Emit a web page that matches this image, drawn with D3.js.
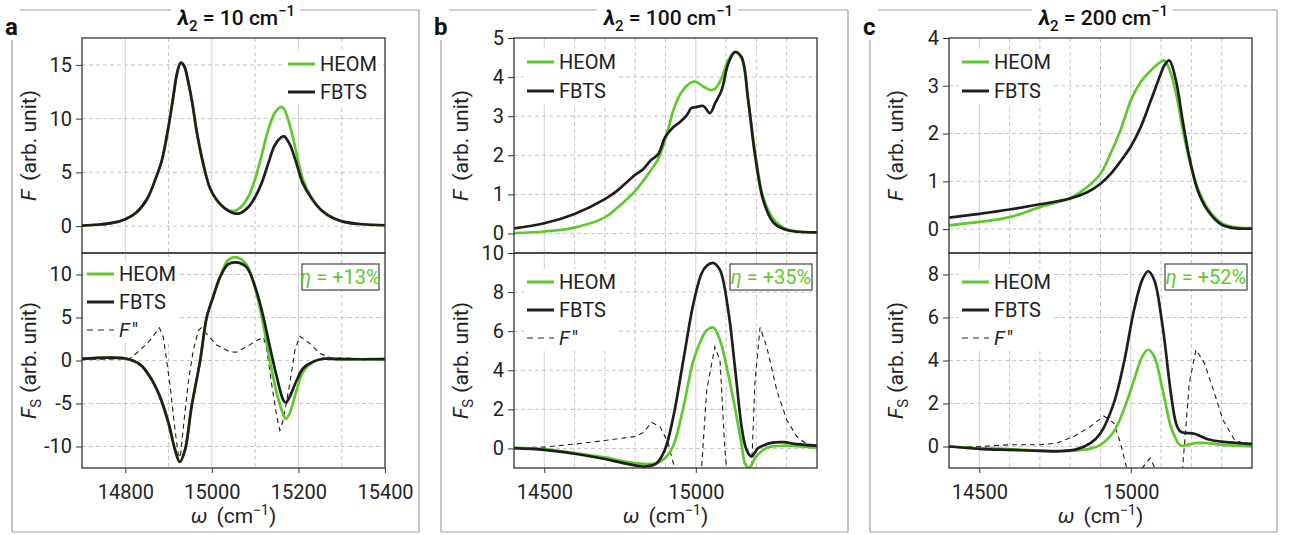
<!DOCTYPE html>
<html>
<head>
<meta charset="utf-8">
<script src="https://cdn.jsdelivr.net/npm/d3@7"></script>
<style>
  body { margin: 0; background: #fff; }
  svg { font-family: Roboto, "DejaVu Sans", sans-serif; }
</style>
</head>
<body>
<svg id="chart" width="1290" height="535"></svg>
<script>
// ---- panel a (lambda2 = 10) ----
const wATop = [14700,14740,14770,14800,14825,14850,14870,14885,14900,14910,14920,14928,14936,14945,14955,14965,14980,14995,15010,15030,15050,15065,15085,15100,15115,15130,15145,15160,15167,15180,15195,15210,15230,15255,15280,15305,15340,15400];
const aTopHEOM = [0.05,0.15,0.3,0.65,1.25,2.5,4.4,6.2,9.3,11.8,14.3,15.2,14.9,13.5,11.4,8.8,5.8,3.6,2.5,1.65,1.4,1.7,2.8,4.4,6.6,8.9,10.5,11.1,10.9,9.4,6.9,4.4,2.7,1.4,0.75,0.4,0.2,0.08];
const aTopFBTS = [0.05,0.15,0.3,0.65,1.25,2.5,4.4,6.2,9.3,11.8,14.3,15.2,14.9,13.5,11.4,8.8,5.8,3.6,2.5,1.65,1.2,1.2,1.8,2.7,4.0,5.8,7.5,8.25,8.35,7.6,5.9,4.0,2.6,1.4,0.75,0.4,0.2,0.08];

const wABot = [14700,14800,14835,14857,14880,14900,14915,14926,14938,14953,14973,14988,15003,15019,15038,15057,15080,15103,15119,15134,15150,15165,15171,15180,15196,15211,15234,15257,15300,15400];
const aBotHEOM = [0.2,0.23,-0.5,-1.9,-4.2,-7.3,-10.4,-11.8,-10.4,-5.4,0,5.0,7.4,9.7,11.7,12.0,11.15,7.8,4.1,0,-3.8,-6.3,-6.8,-6.1,-3.4,-1.3,-0.15,0.2,0.15,0.15];
const aBotFBTS = [0.2,0.23,-0.5,-1.9,-4.2,-7.3,-10.4,-11.8,-10.4,-5.4,0,5.0,7.4,9.7,11.2,11.4,10.85,8.1,5.06,1.6,-1.9,-4.6,-4.9,-4.2,-2.3,-0.9,-0.15,0.2,0.15,0.15];
const wADdot = [14700,14810,14834,14857,14879,14888,14903,14915,14922,14927,14932,14945,14957,14969,14976,14988,15011,15042,15057,15080,15103,15119,15126,15138,15150,15157,15165,15180,15192,15203,15226,15250,15273,15400];
const aBotFdd = [0.1,0.2,1.2,2.35,3.8,2.7,-2.7,-8.1,-10.8,-11.3,-8.8,-2.7,1.2,3.5,3.8,3.1,1.8,1.0,0.97,1.6,2.3,2.7,1.6,-2.7,-6.5,-8.1,-6.9,-2.7,1.2,2.8,2.0,0.8,0.35,0.1];

// ---- panel b (lambda2 = 100) ----
const wBTop = [14400,14500,14600,14700,14740,14800,14827,14850,14876,14898,14915,14926,14948,14970,14986,15000,15025,15047,15063,15085,15107,15129,15151,15173,15195,15223,15256,15300,15400];
const bTopHEOM = [0.01,0.05,0.15,0.41,0.65,1.09,1.35,1.6,1.9,2.38,2.85,3.15,3.55,3.78,3.87,3.88,3.76,3.67,3.7,3.97,4.43,4.64,4.47,3.4,2.12,0.92,0.37,0.11,0.03];
const bTopFBTS = [0.13,0.26,0.5,0.88,1.09,1.5,1.65,1.86,2.03,2.45,2.63,2.72,2.85,3.02,3.21,3.23,3.26,3.08,3.32,3.66,4.34,4.64,4.51,3.4,2.03,0.84,0.28,0.09,0.03];

const wBBot = [14400,14500,14600,14700,14761,14805,14838,14871,14898,14926,14959,14992,15019,15036,15058,15080,15107,15129,15151,15162,15173,15184,15195,15206,15223,15245,15289,15333,15400];
const bBotHEOM = [0.03,-0.03,-0.24,-0.46,-0.66,-0.76,-0.8,-0.75,-0.5,0.15,2.1,4.5,5.6,6.05,6.19,5.54,3.8,2.1,0.2,-0.75,-0.99,-0.85,-0.49,-0.3,-0.07,0.08,0.14,0.12,0.03];
const bBotFBTS = [0.02,-0.07,-0.27,-0.54,-0.75,-0.88,-0.92,-0.75,-0.07,1.63,4.52,7.41,8.95,9.35,9.49,9.12,7.07,4.18,1.12,0.2,-0.24,-0.41,-0.2,0.02,0.15,0.27,0.32,0.22,0.14];
const wBDdot = [14400,14500,14600,14700,14800,14827,14854,14882,14909,14931,14970,15000,15019,15036,15063,15080,15096,15102,15140,15184,15195,15212,15234,15267,15300,15333,15366,15400];
const bBotFdd = [0.03,0.07,0.22,0.41,0.61,0.82,1.33,1.12,0.27,-1.09,-3.5,-5.5,-1.04,3.0,5.2,4.5,-0.07,-1.09,-15,-1.09,3.33,6.19,5.2,3.0,1.46,0.61,0.22,0.1];

// ---- panel c (lambda2 = 200) ----
const wCTop = [14400,14500,14600,14700,14800,14856,14900,14933,14966,15000,15033,15066,15099,15110,15127,15149,15171,15193,15221,15254,15298,15342,15400];
const cTopHEOM = [0.08,0.15,0.25,0.46,0.65,0.88,1.16,1.58,2.07,2.69,3.08,3.32,3.5,3.53,3.35,2.85,2.1,1.45,0.85,0.43,0.13,0.04,0.02];
const cTopFBTS = [0.24,0.32,0.41,0.52,0.64,0.77,0.95,1.15,1.42,1.73,2.14,2.69,3.25,3.42,3.53,3.11,2.28,1.51,0.81,0.39,0.1,0.02,0.01];

const wCBot = [14400,14500,14600,14700,14767,14823,14867,14900,14944,14977,15011,15038,15057,15077,15105,15132,15149,15160,15171,15210,15254,15298,15400];
const cBotHEOM = [0,-0.08,-0.12,-0.19,-0.2,-0.18,-0.1,0.08,0.7,1.71,3.1,4.19,4.5,4.19,2.64,0.93,0.35,0.08,0.03,0.16,0.16,0.08,0];
const cBotFBTS = [0,-0.11,-0.16,-0.2,-0.22,-0.12,0.16,0.62,2.02,3.88,6.37,7.76,8.15,7.76,5.59,2.5,1.09,0.75,0.65,0.59,0.34,0.23,0.12];
const wCDdot = [14400,14500,14600,14700,14756,14812,14867,14911,14944,14966,14988,15010,15038,15064,15083,15120,15171,15193,15215,15243,15276,15304,15342,15400];
const cBotFdd = [0,0,0.08,0.08,0.16,0.47,0.93,1.42,1.09,0.16,-1.09,-4,-1.0,-0.54,-1.1,-12,-1.0,2.95,4.5,3.88,2.48,1.24,0.31,0];

const letters = ["a", "b", "c"];
const lambdas = ["10", "100", "200"];
const etas = ["+13%", "+35%", "+52%"];

const green = "#5ec92c";
const dark = "#1e1e1e";
const FS = 20;
const svg = d3.select("#chart");

const zip = (w, v) => w.map((d, i) => [d, v[i]]);

const panels = [
  {
    frame: [12, 419], x0: 82, x1: 385, xDom: [14700, 15400], xLab: 200,
    top: { yDom: [-2.5, 17.5], major: 5, minor: 2.5,
      series: [zip(wATop, aTopHEOM), zip(wATop, aTopFBTS)], legend: { x: 288, y: 64, dy: 28 } },
    bot: { yDom: [-12.5, 12.5], major: 5, minor: 2.5,
      dashed: zip(wADdot, aBotFdd),
      series: [zip(wABot, aBotHEOM), zip(wABot, aBotFBTS)], legend: { x: 87, y: 274, dy: 28 } },
    eta: { x: 302, w: 77 }
  },
  {
    frame: [441, 848], x0: 514, x1: 817, xDom: [14400, 15400], xLab: 500,
    top: { yDom: [-0.5, 5], major: 1, minor: 0.5,
      series: [zip(wBTop, bTopHEOM), zip(wBTop, bTopFBTS)], legend: { x: 527, y: 62, dy: 29 } },
    bot: { yDom: [-1, 10], major: 2, minor: 1,
      dashed: zip(wBDdot, bBotFdd),
      series: [zip(wBBot, bBotHEOM), zip(wBBot, bBotFBTS)], legend: { x: 527, y: 282, dy: 28 } },
    eta: { x: 730, w: 82 }
  },
  {
    frame: [870, 1277], x0: 949, x1: 1252, xDom: [14400, 15400], xLab: 500,
    top: { yDom: [-0.5, 4], major: 1, minor: 0.5,
      series: [zip(wCTop, cTopHEOM), zip(wCTop, cTopFBTS)], legend: { x: 962, y: 62, dy: 29 } },
    bot: { yDom: [-1, 9], major: 2, minor: 1,
      dashed: zip(wCDdot, cBotFdd),
      series: [zip(wCBot, cBotHEOM), zip(wCBot, cBotFBTS)], legend: { x: 962, y: 282, dy: 28 } },
    eta: { x: 1165, w: 82 }
  }
];

const yTop = 38, yMid = 253, yBot = 468;

function drawPanel(p, k) {
  const g = svg.append("g");
  const x = d3.scaleLinear().domain(p.xDom).range([p.x0, p.x1]);
  const xTicks = d3.range(p.xDom[0], p.xDom[1] + 1, 100);

  [["top", yTop, yMid], ["bot", yMid, yBot]].forEach(([key, yT, yB]) => {
    const s = p[key];
    const y = d3.scaleLinear().domain(s.yDom).range([yB, yT]);
    const id = "clip" + k + key;
    svg.append("defs").append("clipPath").attr("id", id)
      .append("rect").attr("x", p.x0).attr("y", yT).attr("width", p.x1 - p.x0).attr("height", yB - yT);

    const majorY = d3.range(Math.ceil(s.yDom[0] / s.major) * s.major, s.yDom[1] + 1e-9, s.major)
      .map(v => +v.toFixed(4));
    const minorY = d3.range(s.yDom[0], s.yDom[1] + 1e-9, s.minor).map(v => +v.toFixed(4))
      .filter(v => !majorY.includes(v));

    // grid
    g.append("g").selectAll("line")
      .data(xTicks.filter(t => t > p.xDom[0] && t < p.xDom[1]))
      .join("line")
      .attr("x1", d => x(d)).attr("x2", d => x(d)).attr("y1", yT).attr("y2", yB)
      .attr("stroke", d => d % p.xLab === 0 ? "#d2d2d2" : "#c6c6c6")
      .attr("stroke-width", 1)
      .attr("stroke-dasharray", d => d % p.xLab === 0 ? null : "4,3");
    g.append("g").selectAll("line")
      .data(majorY.filter(v => v > s.yDom[0] && v < s.yDom[1]))
      .join("line")
      .attr("x1", p.x0).attr("x2", p.x1).attr("y1", d => y(d)).attr("y2", d => y(d))
      .attr("stroke", "#c6c6c6").attr("stroke-dasharray", "4,3");

    // legend background
    const lg = s.legend;
    const rows = key === "top" ? 2 : 3;
    g.append("rect").attr("x", lg.x - 3).attr("y", lg.y - 13)
      .attr("width", 94).attr("height", (rows - 1) * lg.dy + 26).attr("fill", "#fff");

    // curves
    const cg = g.append("g").attr("clip-path", `url(#${id})`);
    if (s.dashed) {
      cg.append("path").datum(s.dashed)
        .attr("d", d3.line().x(d => x(d[0])).y(d => y(d[1])))
        .attr("fill", "none").attr("stroke", dark).attr("stroke-width", 1.1)
        .attr("stroke-dasharray", "5,4");
    }
    const smooth = d3.line().x(d => x(d[0])).y(d => y(d[1])).curve(d3.curveCatmullRom.alpha(0.5));
    [green, dark].forEach((c, i) => {
      cg.append("path").datum(s.series[i]).attr("d", smooth)
        .attr("fill", "none").attr("stroke", c).attr("stroke-width", 2.7)
        .attr("stroke-linejoin", "round");
    });

    // legend entries
    const names = key === "top" ? ["HEOM", "FBTS"] : ["HEOM", "FBTS", "F″"];
    names.forEach((nm, i) => {
      const yy = lg.y + i * lg.dy;
      g.append("line").attr("x1", lg.x).attr("x2", lg.x + 27).attr("y1", yy).attr("y2", yy)
        .attr("stroke", i === 0 ? green : dark)
        .attr("stroke-width", i === 2 ? 1.1 : 3)
        .attr("stroke-dasharray", i === 2 ? "6,5" : null);
      const t = g.append("text").attr("x", lg.x + 32).attr("y", yy + 7)
        .attr("font-size", FS).attr("fill", "#222");
      if (i === 2) {
        t.append("tspan").attr("font-style", "italic").text("F");
        t.append("tspan").attr("dx", 2).text("″");
      } else t.text(nm);
    });

    // axes
    const ax = g.append("g").attr("transform", `translate(${p.x0},0)`);
    ax.call(d3.axisLeft(y).tickValues(minorY).tickSize(3).tickFormat(""));
    ax.call(d3.axisLeft(y).tickValues(majorY).tickSize(6).tickPadding(4).tickFormat(d => String(d)));
    ax.selectAll(".domain").remove();
    ax.selectAll("line").attr("stroke", "#333");
    ax.selectAll("text").attr("font-size", FS).attr("font-family", "Roboto, sans-serif").attr("fill", "#222");

    // frame of plot
    g.append("rect").attr("x", p.x0).attr("y", yT).attr("width", p.x1 - p.x0).attr("height", yB - yT)
      .attr("fill", "none").attr("stroke", "#333").attr("stroke-width", 1.3);

    // y label
    const yl = g.append("text")
      .attr("transform", `translate(${p.x0 - 46},${(yT + yB) / 2}) rotate(-90)`)
      .attr("text-anchor", "middle").attr("font-size", 21).attr("fill", "#222");
    yl.append("tspan").attr("font-style", "italic").text("F");
    if (key === "bot") {
      yl.append("tspan").attr("font-size", 15).attr("dy", 5).text("S");
      yl.append("tspan").attr("dy", -5).attr("dx", 6).text("(arb. unit)");
    } else {
      yl.append("tspan").attr("dx", 9).text("(arb. unit)");
    }

    if (key === "bot") {
      const bx = g.append("g").attr("transform", `translate(0,${yB})`);
      bx.call(d3.axisBottom(x).tickValues(xTicks.filter(d => d % p.xLab !== 0)).tickSize(3).tickFormat(""));
      bx.call(d3.axisBottom(x).tickValues(xTicks.filter(d => d % p.xLab === 0)).tickSize(5).tickPadding(12)
        .tickFormat(d => String(d)));
      bx.selectAll(".domain").remove();
      bx.selectAll("line").attr("stroke", "#333");
      bx.selectAll("text").attr("font-size", FS).attr("font-family", "Roboto, sans-serif").attr("fill", "#222");

      const xl = g.append("text").attr("x", (p.x0 + p.x1) / 2).attr("y", 523)
        .attr("text-anchor", "middle").attr("font-size", 21).attr("fill", "#222");
      xl.append("tspan").attr("font-style", "italic").text("ω");
      xl.append("tspan").attr("dx", 9).text("(cm");
      xl.append("tspan").attr("font-size", 14).attr("dy", -8).text("−1");
      xl.append("tspan").attr("dy", 8).text(")");

      // eta box
      g.append("rect").attr("x", p.eta.x).attr("y", 264).attr("width", p.eta.w).attr("height", 26)
        .attr("fill", "#fff").attr("stroke", "#444").attr("stroke-width", 1.2);
      const et = g.append("text").attr("x", p.eta.x + p.eta.w / 2).attr("y", 284)
        .attr("text-anchor", "middle").attr("font-size", FS).attr("fill", green);
      et.append("tspan").attr("font-style", "italic").text("η");
      et.append("tspan").text(" = " + etas[k]);
    }
  });

  // outer frame, title, letter
  const [fl, fr] = p.frame;
  const title = g.append("text").attr("x", (p.x0 + p.x1) / 2 + 3).attr("y", 25)
    .attr("text-anchor", "middle").attr("font-size", 21).attr("font-weight", 500).attr("fill", "#111");
  title.append("tspan").attr("font-style", "italic").attr("font-weight", "bold").text("λ");
  title.append("tspan").attr("font-size", 15).attr("dy", 6).text("2");
  title.append("tspan").attr("dy", -6).text(" = " + lambdas[k] + " cm");
  title.append("tspan").attr("font-size", 15).attr("dy", -9).text("−1");
  const bb = title.node().getBBox();

  const fc = "#a0a0a0";
  const seg = (x1, y1, x2, y2) => g.append("line").attr("x1", x1).attr("y1", y1).attr("x2", x2).attr("y2", y2)
    .attr("stroke", fc).attr("stroke-width", 1.2);
  seg(fl + 8, 10, bb.x - 5, 10);
  seg(bb.x + bb.width + 5, 10, fr, 10);
  seg(fr, 10, fr, 532);
  seg(fl, 532, fr, 532);
  seg(fl, 40, fl, 532);

  g.append("text").attr("x", fl - 7).attr("y", 35).attr("font-size", 24).attr("font-weight", "bold")
    .attr("fill", "#111").text(letters[k]);
}

panels.forEach(drawPanel);
</script>
</body>
</html>
